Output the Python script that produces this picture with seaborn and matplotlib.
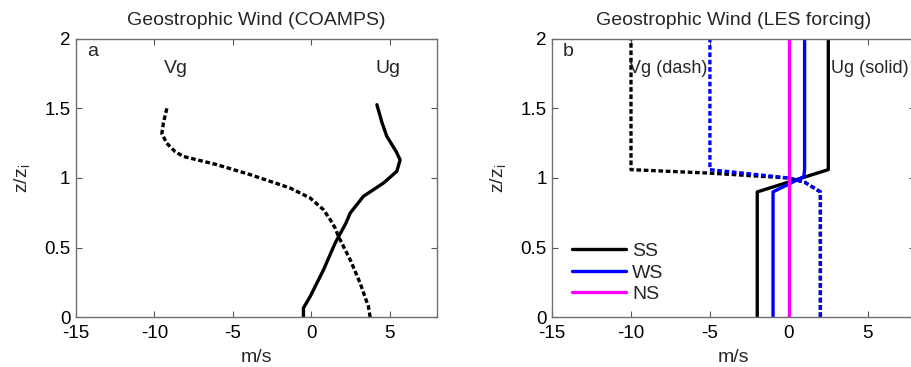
import matplotlib
matplotlib.use("Agg")
import matplotlib.pyplot as plt
import seaborn as sns
import numpy as np

sns.set_theme(style="white")
plt.rcParams['font.family'] = ['Liberation Sans', 'DejaVu Sans']

# Panel a: COAMPS geostrophic wind profiles
ug_a_x = [-0.51, -0.51, -0.08, 0.77, 1.51, 2.2, 2.47, 3.31, 4.59, 5.44, 5.65, 5.4, 4.8, 4.49, 4.17]
ug_a_z = [0.0, 0.065, 0.148, 0.34, 0.532, 0.676, 0.748, 0.868, 0.964, 1.048, 1.13, 1.19, 1.3, 1.4, 1.527]
vg_a_x = [3.74, 3.63, 3.1, 2.47, 1.72, 1.51, 1.2, 0.77, -0.08, -1.36, -2.63, -3.9, -6.03, -8.16, -8.69, -9.22, -9.53, -9.43, -9.18]
vg_a_z = [0.0, 0.076, 0.245, 0.412, 0.58, 0.64, 0.70, 0.772, 0.856, 0.928, 0.976, 1.024, 1.096, 1.155, 1.19, 1.25, 1.32, 1.396, 1.515]

# Panel b: LES forcing profiles
ss_ug_x = [-2, -2, 2.5, 2.5]
ss_ug_z = [0, 0.9, 1.06, 2]
ws_ug_x = [-1, -1, 0.95, 1, 1]
ws_ug_z = [0, 0.9, 1.01, 1.06, 2]
ns_ug_x = [0, 0]
ns_ug_z = [0, 2]
ss_vg_x = [2, 2, 1, 0, -5, -10, -10]
ss_vg_z = [0, 0.9, 0.97, 1.0, 1.035, 1.06, 2]
ws_vg_x = [2, 2, 1, 0, -5, -5]
ws_vg_z = [0, 0.9, 0.97, 1.0, 1.06, 2]

cases = ["SS", "WS", "NS"]
colors = {"SS": "black", "WS": "#0000ff", "NS": "#ff00ff"}

xticks = [-15, -10, -5, 0, 5]
yticks = [0, 0.5, 1, 1.5, 2]
xticklabels = ["-15", "-10", "-5", "0", "5"]
yticklabels = ["0", "0.5", "1", "1.5", "2"]

fig = plt.figure(figsize=(9.11, 3.67), dpi=100)
ax1 = fig.add_axes([0.0834, 0.136, 0.3963, 0.758])
ax2 = fig.add_axes([0.606, 0.136, 0.3985, 0.758])

FS = 13.5
dash = (1.4, 0.8)
LW = 2.4

sns.lineplot(x=ug_a_x, y=ug_a_z, sort=False, estimator=None, color="black", lw=LW, ax=ax1)
sns.lineplot(x=vg_a_x, y=vg_a_z, sort=False, estimator=None, color="black", lw=LW, ax=ax1)
ax1.lines[-1].set_dashes(dash)

# panel b lines (Vg dashed, Ug solid)
for xs, zs, c in [(ss_vg_x, ss_vg_z, "SS"), (ws_vg_x, ws_vg_z, "WS")]:
    sns.lineplot(x=xs, y=zs, sort=False, estimator=None, color=colors[c], lw=LW, ax=ax2)
    ax2.lines[-1].set_dashes(dash)
handles = []
for xs, zs, c in [(ss_ug_x, ss_ug_z, "SS"), (ws_ug_x, ws_ug_z, "WS"), (ns_ug_x, ns_ug_z, "NS")]:
    sns.lineplot(x=xs, y=zs, sort=False, estimator=None, color=colors[c], lw=LW, ax=ax2)
    handles.append(ax2.lines[-1])

for ax, title in [(ax1, "Geostrophic Wind (COAMPS)"), (ax2, "Geostrophic Wind (LES forcing)")]:
    ax.set_xlim(-15, 8)
    ax.set_ylim(0, 2)
    ax.set_xticks(xticks)
    ax.set_xticklabels(xticklabels, fontsize=FS)
    ax.set_yticks(yticks)
    ax.set_yticklabels(yticklabels, fontsize=FS)
    ax.tick_params(direction="in", length=4, width=0.8, top=True, right=True,
                   bottom=True, left=True, colors="#555555", labelcolor="black")
    ax.tick_params(axis="x", pad=6)
    ax.tick_params(axis="y", pad=4)
    for s in ax.spines.values():
        s.set_color("#707070")
        s.set_linewidth(1.0)
    ax.set_xlabel("m/s", fontsize=14, labelpad=5)
    ax.set_ylabel("z/z$_\\mathregular{i}$", fontsize=14, labelpad=8)
    ax.set_title(title, fontsize=14, pad=10)

ax1.text(-14.3, 1.91, "a", fontsize=14, va="center", ha="left")
ax1.text(-9.4, 1.79, "Vg", fontsize=14, va="center", ha="left")
ax1.text(4.05, 1.79, "Ug", fontsize=14, va="center", ha="left")

ax2.text(-14.3, 1.91, "b", fontsize=14, va="center", ha="left")
ax2.text(-10.15, 1.79, "Vg (dash)", fontsize=13, va="center", ha="left")
ax2.text(2.66, 1.79, "Ug (solid)", fontsize=13, va="center", ha="left")

ax2.legend(handles, cases, loc="lower left", frameon=False, fontsize=14,
           handlelength=2.8, handletextpad=0.3, labelspacing=0.2,
           borderpad=0, borderaxespad=0, bbox_to_anchor=(0.055, 0.05))

fig.savefig("out.png", dpi=100)
